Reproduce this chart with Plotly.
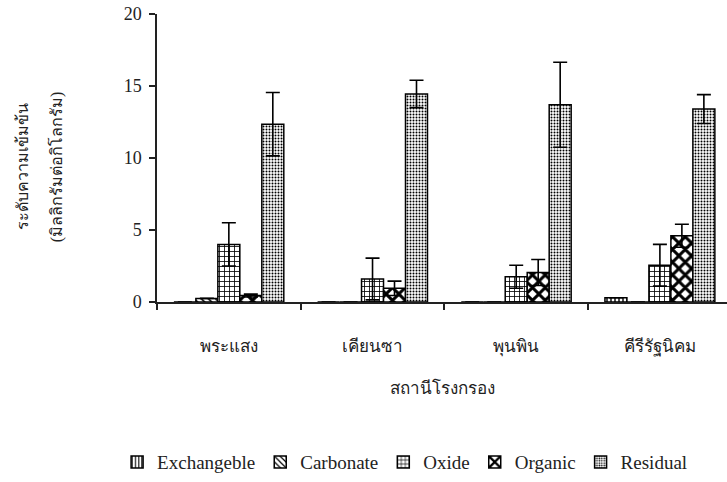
import plotly.graph_objects as go

categories = ["พระแสง", "เคียนซา", "พุนพิน", "คีรีรัฐนิคม"]
series_names = ["Exchangeble", "Carbonate", "Oxide", "Organic", "Residual"]

exchangeble = [0.0, 0.0, 0.0, 0.3]
carbonate = [0.25, 0.0, 0.0, 0.0]
oxide = [4.0, 1.6, 1.75, 2.55]
organic = [0.45, 0.95, 2.05, 4.6]
residual = [12.35, 14.45, 13.7, 13.4]

exchangeble_err = [0.0, 0.0, 0.0, 0.0]
carbonate_err = [0.0, 0.0, 0.0, 0.0]
oxide_err = [1.5, 1.45, 0.8, 1.45]
organic_err = [0.1, 0.5, 0.9, 0.8]
residual_err = [2.2, 0.95, 2.95, 1.0]

y_ticks = [0, 5, 10, 15, 20]

values = [exchangeble, carbonate, oxide, organic, residual]
errors = [exchangeble_err, carbonate_err, oxide_err, organic_err, residual_err]
patterns = [
    dict(shape="|", size=4, solidity=0.35),
    dict(shape="\\", size=5, solidity=0.3),
    dict(shape="+", size=5, solidity=0.3),
    dict(shape="x", size=9, solidity=0.55),
    dict(shape=".", size=3, solidity=0.35),
]

serif = "Liberation Serif, Times New Roman, serif"

fig = go.Figure()
for name, vals, errs, pat in zip(series_names, values, errors, patterns):
    fig.add_trace(go.Bar(
        name=name, x=categories, y=vals,
        marker=dict(color="white", line=dict(color="black", width=1.5),
                    pattern=dict(fgcolor="black", bgcolor="white", fillmode="replace", **pat)),
        error_y=dict(type="data", array=errs, visible=True, color="black",
                     thickness=1.6, width=7),
    ))

fig.update_layout(
    width=727, height=482,
    margin=dict(l=157, r=0, t=14, b=180, autoexpand=False),
    paper_bgcolor="white", plot_bgcolor="white",
    barmode="group", bargap=0.235, bargroupgap=0,
    font=dict(family=serif, size=16, color="#222"),
    showlegend=True,
    legend=dict(orientation="h", xref="paper", yref="paper",
                x=-0.07, xanchor="left", y=-0.556, yanchor="middle",
                font=dict(family=serif, size=19, color="#222"), itemwidth=30,
                traceorder="normal"),
    xaxis=dict(range=[-0.5, 3.467], showline=True, linecolor="#222", linewidth=1.5,
               ticks="outside", tickson="boundaries", ticklen=6, tickcolor="#222",
               tickwidth=1.5, tickfont=dict(size=17, color="#222"), ticklabelstandoff=28,
               showgrid=False, zeroline=False,
               title=dict(text="สถานีโรงกรอง", font=dict(size=17, color="#222"), standoff=26)),
    yaxis=dict(range=[0, 20], tickvals=y_ticks, showline=True, linecolor="#222", linewidth=1.5,
               ticks="outside", ticklen=6, tickcolor="#222", tickwidth=1.5,
               tickfont=dict(size=18, color="#222"), ticklabelstandoff=4,
               showgrid=False, zeroline=False),
    annotations=[
        dict(text="ระดับความเข้มข้น", textangle=-90, xref="paper", yref="paper",
             x=-0.236, y=0.47, showarrow=False, xanchor="center", yanchor="middle",
             font=dict(family=serif, size=16, color="#222")),
        dict(text="(มิลลิกรัมต่อกิโลกรัม)", textangle=-90, xref="paper", yref="paper",
             x=-0.176, y=0.47, showarrow=False, xanchor="center", yanchor="middle",
             font=dict(family=serif, size=16, color="#222")),
    ],
)

fig.write_html("out.html")
